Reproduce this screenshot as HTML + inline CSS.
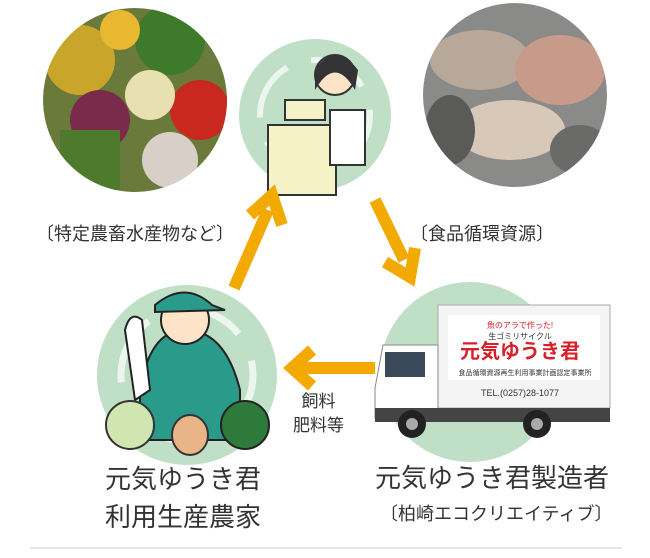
<!DOCTYPE html>
<html><head><meta charset="utf-8"><style>
body{margin:0;width:650px;height:558px;background:#fff;overflow:hidden;position:relative;font-family:"Liberation Sans","Noto Sans CJK JP",sans-serif;color:#333}
.t{position:absolute;white-space:nowrap}
</style></head><body>
<svg width="650" height="558" style="position:absolute;left:0;top:0">
<defs><clipPath id="cv"><circle cx="135" cy="100" r="92"/></clipPath><clipPath id="cf"><circle cx="515" cy="95" r="92"/></clipPath></defs>
<!-- vegetables photo -->
<g clip-path="url(#cv)">
<rect x="40" y="5" width="190" height="190" fill="#6a7a3a"/>
<circle cx="80" cy="60" r="35" fill="#c9a52a"/><circle cx="170" cy="40" r="35" fill="#3f7a2a"/>
<circle cx="200" cy="110" r="30" fill="#c8281e"/><circle cx="100" cy="120" r="30" fill="#7a2a4a"/>
<circle cx="150" cy="95" r="25" fill="#e8e0b0"/><rect x="60" y="130" width="60" height="60" fill="#4d7a2c"/>
<circle cx="120" cy="30" r="20" fill="#e8b830"/><circle cx="170" cy="160" r="28" fill="#d8d0c8"/>
</g>
<!-- fish photo -->
<g clip-path="url(#cf)">
<rect x="420" y="0" width="200" height="190" fill="#8a8a88"/>
<ellipse cx="480" cy="60" rx="50" ry="30" fill="#b8a89a"/><ellipse cx="560" cy="70" rx="45" ry="35" fill="#c89a8a"/>
<ellipse cx="510" cy="130" rx="55" ry="30" fill="#d8c8b8"/><ellipse cx="580" cy="150" rx="30" ry="25" fill="#6a6a68"/>
<ellipse cx="450" cy="130" rx="25" ry="35" fill="#5a5a58"/>
</g>
<!-- green circles -->
<circle cx="315" cy="115" r="76" fill="#bfe0c6"/>
<circle cx="187" cy="375" r="90" fill="#bfe0c6"/>
<circle cx="470" cy="372" r="90" fill="#bfe0c6"/>
<circle cx="315" cy="115" r="55" fill="none" stroke="#fff" stroke-width="6" stroke-dasharray="60 25" opacity=".7"/>
<circle cx="187" cy="375" r="66" fill="none" stroke="#fff" stroke-width="7" stroke-dasharray="70 30" opacity=".7"/>
<!-- cashier -->
<rect x="268" y="125" width="68" height="70" fill="#f6f2c8" stroke="#333" stroke-width="2"/>
<rect x="285" y="100" width="40" height="20" fill="#f6f2c8" stroke="#333" stroke-width="2"/>
<circle cx="335" cy="75" r="20" fill="#fde3c8" stroke="#333" stroke-width="2"/>
<path d="M315 70 Q335 40 358 70 L355 90 Q335 55 315 90Z" fill="#333"/>
<rect x="330" y="110" width="35" height="55" fill="#fff" stroke="#333" stroke-width="2"/>
<!-- farmer -->
<path d="M140 390 Q150 330 185 330 Q225 330 240 390 L240 440 L140 440Z" fill="#2a9a8a" stroke="#222" stroke-width="2"/>
<circle cx="185" cy="320" r="24" fill="#fde3c8" stroke="#222" stroke-width="2"/>
<path d="M155 305 Q185 280 212 305 L225 310 L155 312Z" fill="#2a9a8a" stroke="#222" stroke-width="2"/>
<path d="M125 330 Q130 310 142 320 L150 390 L135 400Z" fill="#fff" stroke="#222" stroke-width="2"/>
<circle cx="130" cy="425" r="24" fill="#cfe6b0" stroke="#333" stroke-width="2"/>
<ellipse cx="190" cy="435" rx="18" ry="20" fill="#e8b488" stroke="#333" stroke-width="2"/>
<circle cx="245" cy="425" r="24" fill="#2e7a3a" stroke="#222" stroke-width="2"/>
<!-- truck -->
<rect x="438" y="305" width="172" height="103" fill="#f4f4f4" stroke="#aaa"/>
<rect x="448" y="315" width="152" height="65" fill="#fff"/>
<path d="M375 388 L383 345 L438 345 L438 418 L375 418Z" fill="#fff" stroke="#888"/>
<rect x="385" y="352" width="40" height="25" fill="#3a4a5a"/>
<rect x="375" y="408" width="235" height="14" fill="#444"/>
<circle cx="412" cy="424" r="14" fill="#222"/><circle cx="537" cy="424" r="14" fill="#222"/>
<circle cx="412" cy="424" r="6" fill="#aaa"/><circle cx="537" cy="424" r="6" fill="#aaa"/>
<text x="520" y="358" font-size="20" font-weight="bold" fill="#d8202a" text-anchor="middle" font-family="Liberation Sans,Noto Sans CJK JP,sans-serif">元気ゆうき君</text>
<text x="520" y="328" font-size="8" fill="#d8202a" text-anchor="middle" font-family="Liberation Sans,Noto Sans CJK JP,sans-serif">魚のアラで作った!</text>
<text x="520" y="339" font-size="8" fill="#333" text-anchor="middle" font-family="Liberation Sans,Noto Sans CJK JP,sans-serif">生ゴミリサイクル</text>
<text x="525" y="375" font-size="7" fill="#333" text-anchor="middle" font-family="Liberation Sans,Noto Sans CJK JP,sans-serif">食品循環資源再生利用事業計画認定事業所</text>
<text x="520" y="396" font-size="9" fill="#333" text-anchor="middle" font-family="Liberation Sans,sans-serif">TEL.(0257)28-1077</text>
<!-- arrows -->
<g stroke="#f2a900" stroke-width="12" fill="none" stroke-linecap="butt" stroke-linejoin="miter">
<line x1="234" y1="288" x2="268" y2="210"/>
<polyline points="250,215 272,195 282,225"/>
<line x1="375" y1="200" x2="404" y2="260"/>
<polyline points="385,262 410,277 415,248"/>
<line x1="375" y1="368" x2="295" y2="368"/>
<polyline points="312,350 292,368 312,386"/>
</g>
<line x1="30" y1="548" x2="622" y2="548" stroke="#e6e6e6" stroke-width="2"/>
</svg>
<div class="t" style="left:36px;top:220px;font-size:18px">〔特定農畜水産物など〕</div>
<div class="t" style="left:410px;top:220px;font-size:18px">〔食品循環資源〕</div>
<div class="t" style="left:293px;top:390px;font-size:17px;line-height:24px;text-align:center">飼料<br>肥料等</div>
<div class="t" style="left:105px;top:460px;font-size:26px;line-height:38px">元気ゆうき君<br>利用生産農家</div>
<div class="t" style="left:375px;top:460px;font-size:26px;line-height:36px">元気ゆうき君製造者</div>
<div class="t" style="left:380px;top:500px;font-size:18px">〔柏崎エコクリエイティブ〕</div>
</body></html>
